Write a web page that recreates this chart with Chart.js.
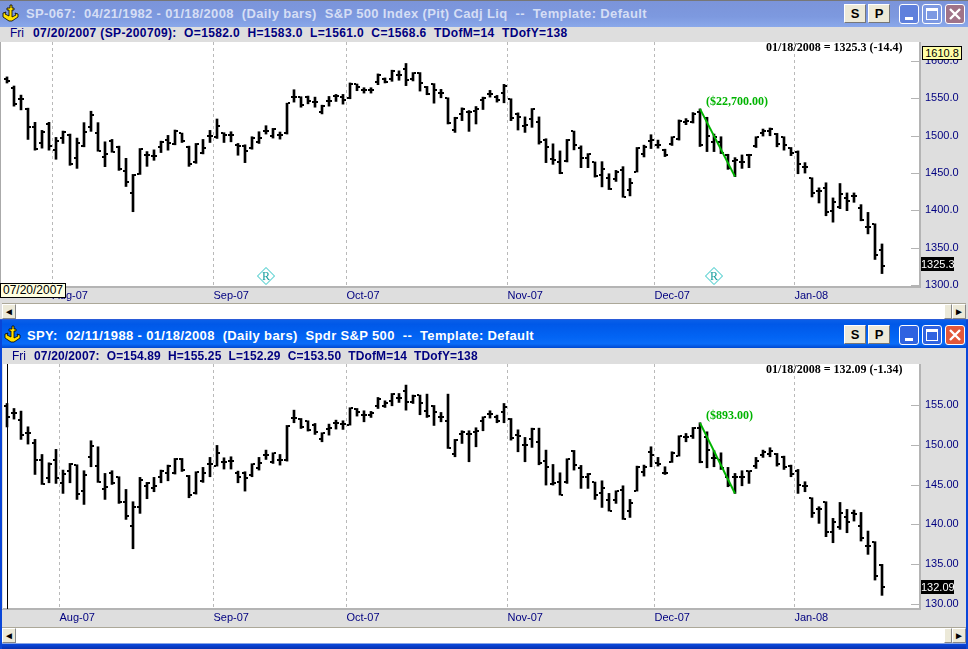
<!DOCTYPE html>
<html>
<head>
<meta charset="utf-8">
<script src="https://cdn.jsdelivr.net/npm/chart.js@4"></script>
<style>
html,body{margin:0;padding:0;background:#dedede;overflow:hidden}
#page{position:relative;width:968px;height:649px;overflow:hidden;font-family:"Liberation Sans",Arial,sans-serif}
#page div,#page span,#page canvas,#page svg{position:absolute}
.title{left:0;width:968px;height:27px}
.titleTxt{left:26px;font-weight:bold;font-size:13px;white-space:pre;letter-spacing:.35px}
.strip{font-size:12px;color:#000080;white-space:pre}
.stripB{font-weight:bold;letter-spacing:.36px}
.btn{width:22px;height:19px;top:4px;background:#ece9d8;border:1px solid #fff;border-right-color:#777;border-bottom-color:#777;box-sizing:border-box;text-align:center;font-weight:bold;font-size:13px;line-height:17px;color:#000}
.wb{width:20px;height:20px;top:4px;box-sizing:border-box;border:1px solid #fff;border-radius:3px}
.scroll{left:2px;width:964px;height:16px;background:#fff;border-top:1px solid #aca899;box-sizing:border-box}
.sb{width:14px;height:15px;top:0;background:#ece9d8;border:1px solid #fff;border-right-color:#888;border-bottom-color:#888;box-sizing:border-box;font-size:10px;line-height:13px;text-align:center;color:#000}
.val{font-family:"Liberation Serif",serif;font-weight:bold;font-size:12px;white-space:pre}
.flag{font-size:11px;text-align:center;line-height:14px;height:14px}
</style>
</head>
<body>
<div id="page">
  <!-- top window -->
  <div class="title" style="top:0;background:linear-gradient(#7b94da,#7d99df 60%,#8aa8ea);border-top:1px solid #777;box-sizing:border-box"></div>
  <svg style="left:2px;top:4px" width="17" height="18" viewBox="0 0 17 18"><path d="M8 1h2v3h2v2h-2v7l4-2-1-2 3 1v3l-6 4H7l-6-4V9l3-1-1 2 4 2V6H5V4h3z" fill="#ffe000" stroke="#000" stroke-width=".8"/></svg>
  <div class="titleTxt" style="top:6px;color:#d5def5">SP-067:  04/21/1982 - 01/18/2008  (Daily bars)  S&amp;P 500 Index (Pit) Cadj Liq  --  Template: Default</div>
  <div class="btn" style="left:844px">S</div>
  <div class="btn" style="left:868px">P</div>
  <div class="wb" style="left:899px;background:#5f80dc"><div style="left:5px;top:12px;width:8px;height:3px;background:#fff"></div></div>
  <div class="wb" style="left:922px;background:#7d99e2"><div style="left:3px;top:3px;width:12px;height:12px;border:1px solid #fff;border-top-width:3px;box-sizing:border-box"></div></div>
  <div class="wb" style="left:945px;background:#a07388"><svg style="left:3px;top:3px" width="12" height="12"><path d="M1 1L11 11M11 1L1 11" stroke="#fff" stroke-width="2.4"/></svg></div>
  <div class="strip" style="left:10px;top:26px">Fri</div>
  <div class="strip stripB" style="left:33px;top:26px">07/20/2007 (SP-200709):  O=1582.0  H=1583.0  L=1561.0  C=1568.6  TDofM=14  TDofY=138</div>
  <canvas id="topChart" width="968" height="263" style="left:0;top:42px"></canvas>
  <div style="left:0;top:42px;width:1px;height:243px;background:#aaa"></div>
  <div class="val" style="left:766px;top:40px;color:#000">01/18/2008 = 1325.3 (-14.4)</div>
  <div class="val" style="left:706px;top:94px;color:#00b400">($22,700.00)</div>
  <div class="flag" style="left:922px;top:46px;width:40px;background:#ffffa8;border:1px solid #000;box-sizing:border-box;line-height:12px;color:#000">1610.8</div>
  <div class="flag" style="left:921px;top:257px;width:33px;background:#000;color:#fff">1325.3</div>
  <div class="flag" style="left:0;top:283px;width:66px;height:15px;background:#ffffe1;border:1px solid #000;box-sizing:border-box;line-height:13px;color:#000;font-size:12px">07/20/2007</div>
  <div class="scroll" style="top:303px"><div class="sb" style="left:0">&#9668;</div><div class="sb" style="left:942px;width:8px"></div><div class="sb" style="left:950px">&#9658;</div></div>
  <div style="left:0;top:319px;width:968px;height:2px;background:#2a5bd8"></div>

  <!-- bottom window -->
  <div class="title" style="top:320px;height:28px;background:linear-gradient(#0a5fe8,#0058e8 15%,#0264f4 60%,#0a6cf8 85%,#0048d0)"></div>
  <svg style="left:4px;top:325px" width="17" height="18" viewBox="0 0 17 18"><path d="M8 1h2v3h2v2h-2v7l4-2-1-2 3 1v3l-6 4H7l-6-4V9l3-1-1 2 4 2V6H5V4h3z" fill="#ffe000" stroke="#000" stroke-width=".8"/></svg>
  <div class="titleTxt" style="top:328px;left:27px;color:#fff">SPY:  02/11/1988 - 01/18/2008  (Daily bars)  Spdr S&amp;P 500  --  Template: Default</div>
  <div class="btn" style="left:844px;top:325px">S</div>
  <div class="btn" style="left:868px;top:325px">P</div>
  <div class="wb" style="left:899px;top:325px;background:#2f63e0"><div style="left:5px;top:12px;width:8px;height:3px;background:#fff"></div></div>
  <div class="wb" style="left:922px;top:325px;background:#2f63e0"><div style="left:3px;top:3px;width:12px;height:12px;border:1px solid #fff;border-top-width:3px;box-sizing:border-box"></div></div>
  <div class="wb" style="left:945px;top:325px;background:#e2583a"><svg style="left:3px;top:3px" width="12" height="12"><path d="M1 1L11 11M11 1L1 11" stroke="#fff" stroke-width="2.4"/></svg></div>
  <div class="strip" style="left:12px;top:349px">Fri</div>
  <div class="strip stripB" style="left:34px;top:349px;letter-spacing:.15px">07/20/2007:  O=154.89  H=155.25  L=152.29  C=153.50  TDofM=14  TDofY=138</div>
  <canvas id="bottomChart" width="968" height="263" style="left:0;top:364px"></canvas>
  <div style="left:2px;top:364px;width:1px;height:245px;background:#dedede"></div>
  <div class="val" style="left:766px;top:362px;color:#000">01/18/2008 = 132.09 (-1.34)</div>
  <div class="val" style="left:706px;top:408px;color:#00b400">($893.00)</div>
  <div class="flag" style="left:921px;top:580px;width:33px;background:#000;color:#fff">132.09</div>
  <div class="scroll" style="top:627px"><div class="sb" style="left:0">&#9668;</div><div class="sb" style="left:942px;width:8px"></div><div class="sb" style="left:950px">&#9658;</div></div>
  <div style="left:0;top:643px;width:968px;height:6px;background:linear-gradient(#c8d4ee,#0a46d8 25%,#0831b0)"></div>
  <div style="left:0;top:320px;width:2px;height:329px;background:#0a46d8"></div>
  <div style="left:966px;top:320px;width:2px;height:329px;background:#0a46d8"></div>
</div>

<script>
// SP-067, one entry per daily bar, 07/20/2007 to 01/18/2008
const spOpen = [1576.2,1564,1548.7,1536.1,1511.3,1490.1,1515.3,1480.7,1496.4,1501.4,
  1470.7,1486.1,1511.3,1503.2,1471.6,1493.3,1485.2,1452.7,1423.4,1448.2,
  1473.9,1473,1484.3,1494.2,1488.8,1503.6,1485.6,1464.4,1477,1500,
  1498.7,1503.6,1500.9,1487,1486.5,1483.4,1491.9,1505.9,1499.1,1501.4,
  1504.1,1552.3,1551.8,1551.8,1545.1,1532,1546,1552.7,1551.8,1550.5,
  1569.4,1560.8,1561.3,1572.1,1576.6,1576.6,1582,1589.7,1576.6,1584.3,
  1565.3,1568.9,1557.2,1550,1507.7,1529.3,1532.5,1532.9,1547.3,1556.3,
  1551.8,1557.7,1549.1,1529.8,1513.5,1522.5,1518.9,1494.6,1468.5,1465.3,
  1465.8,1505.9,1483.4,1469.8,1464.4,1447.3,1443.7,1441.9,1454.5,1427,
  1451.8,1476.1,1493.3,1487,1480.7,1488.3,1495.1,1518,1518.9,1531.6,
  1524.3,1491,1491,1474.3,1466.2,1464.4,1474.3,1486.5,1503.2,1505.9,
  1502.3,1497.8,1483.4,1478.8,1458.6,1443.7,1425.7,1430.2,1398.7,1405,
  1416.7,1418.9,1403.2,1377.9,1381.5,1346.9];
const spHigh = [1578.9,1566.7,1554.5,1537,1518,1507.2,1518,1497.8,1506.3,1502.3,
  1496.9,1517.6,1532.9,1517.6,1491.9,1495.1,1486.1,1469.8,1448.2,1482.9,
  1478.8,1481.1,1492.8,1500.5,1507.7,1503.6,1486.1,1489.7,1495.1,1507.2,
  1522.5,1504.1,1505.4,1489.7,1487.9,1498.7,1505.4,1513.5,1509.9,1505,
  1543.7,1561.7,1552.3,1553.2,1551.8,1541,1552.7,1555.4,1555.4,1570.8,
  1569.4,1564.4,1564.4,1582.9,1577.5,1587.9,1587,1596.9,1584.7,1584.7,
  1566.2,1569.9,1562.2,1550.9,1524.8,1537.4,1533.8,1539.2,1551.8,1560.8,
  1554.1,1568.9,1549.6,1530.7,1525.3,1536.5,1525.3,1496,1489.2,1479.7,
  1495.1,1506.3,1486.5,1476.1,1464.9,1465.3,1449.1,1453.6,1458.6,1442.8,
  1484.3,1487.4,1501.4,1494.2,1482,1498.7,1521.2,1523,1531.1,1536,
  1524.8,1502.3,1498.7,1475.2,1470.7,1474.3,1475.2,1498.7,1509,1510.4,
  1503.2,1498.7,1484.3,1479.7,1464,1443.7,1430.2,1437,1416.7,1436,
  1423.4,1423.4,1407.7,1397.3,1382,1355];
const spLow = [1570.7,1539.7,1534.7,1495.1,1480.7,1483.4,1480.7,1468.5,1489.7,1460.4,
  1456.3,1485.2,1505.9,1479.3,1458.6,1477.9,1453.6,1432,1398.2,1448.2,
  1459,1467.1,1477.5,1480.7,1487.9,1491,1459,1463.1,1475.7,1491,
  1496.4,1491,1491.9,1473.9,1464,1482,1489.7,1502.3,1496.9,1495.5,
  1502.3,1545.1,1538.3,1542.8,1538.3,1529.3,1539.7,1546,1542.4,1549.6,
  1560.4,1557.2,1557.2,1568.5,1570.8,1573,1574.4,1567.2,1573.5,1559.9,
  1555,1543.7,1550.9,1515.8,1504.5,1520.3,1505.9,1515.8,1535.2,1551.8,
  1545.1,1544.2,1520.3,1507.7,1504.5,1511.3,1488.8,1464,1461.7,1449.1,
  1464.9,1481.1,1457.2,1457.2,1444.6,1431.5,1427.9,1438.8,1417.6,1419.4,
  1451.4,1471.6,1482.9,1483.4,1472.1,1487,1494.2,1514.9,1517.1,1485.6,
  1478.8,1478.8,1476.1,1455,1445.2,1456.3,1457.2,1484.3,1499.6,1500,
  1485.2,1480.7,1473.4,1449.1,1450,1418,1409.9,1392.8,1384.2,1402.3,
  1399.6,1410.8,1386,1368.5,1334.2,1315.3];
const spClose = [1573,1542.8,1549.1,1511.7,1481.6,1504.5,1486.1,1493.3,1504.5,1461.7,
  1489.7,1505,1527.5,1480.2,1475.2,1478.8,1455.4,1437.4,1447.3,1482,
  1474.8,1473,1491.9,1489.7,1506.8,1492.4,1461.7,1488.8,1483.4,1500,
  1513.1,1500.9,1500.9,1486.5,1479.7,1496.4,1497.3,1506.8,1508.6,1500.9,
  1543.7,1551.8,1540.6,1546,1545.1,1540.1,1546.9,1553.2,1548.2,1569.9,
  1564.9,1560.8,1561.3,1581.1,1572.6,1586.5,1582,1575.3,1583.8,1571.2,
  1556.3,1561.7,1557.2,1516.7,1523.4,1535.6,1532.5,1536.1,1550.9,1556.3,
  1547.3,1566.7,1523.9,1524.8,1514.4,1535.6,1491,1485.2,1467.1,1450,
  1494.2,1487.9,1470.7,1475.2,1446,1455.9,1428.8,1451.8,1418.5,1437,
  1483.4,1484.3,1494.2,1487,1473.9,1497.8,1520.3,1519.4,1529.3,1487.9,
  1500,1498.7,1477.5,1457.2,1467.1,1464.9,1474.3,1497.8,1506.8,1509,
  1488.8,1487.4,1477.5,1461.7,1458.6,1423.4,1425.7,1397.8,1411.3,1422.1,
  1413.1,1418.9,1387.4,1377.9,1339.7,1325.3];

// SPY, same dates
const spyOpen = [154.89,153.99,153.11,151.56,150.30,148.11,145.88,148.11,145.17,146.77,
  147.44,144.24,148.45,147.40,144.41,146.51,145.93,142.82,139.83,142.14,
  144.83,144.54,146.01,146.43,146.43,148.19,146.13,143.99,145.46,147.61,
  147.35,147.90,147.98,146.51,146.51,146.22,147.06,148.74,147.90,148.11,
  148.11,153.36,153.32,152.99,152.52,150.72,152.02,152.82,152.61,152.52,
  154.58,153.78,153.78,154.92,154.92,155.59,155.97,156.85,155.46,156.26,
  154.33,154.92,153.57,153.07,148.82,151.39,151.39,151.68,153.03,153.91,
  153.49,154.12,153.32,151.26,149.96,150.80,150.42,147.98,145.09,145.30,
  145.30,149.29,147.06,145.93,145.30,143.99,143.07,143.07,144.33,141.72,
  144.24,146.64,149.08,147.69,146.51,147.90,148.66,150.97,151.14,152.10,
  150.97,148.32,148.11,146.01,145.93,145.93,146.72,147.40,148.74,148.87,
  148.87,148.53,147.40,146.77,144.87,143.32,141.89,142.77,139.08,139.71,
  140.88,141.39,139.83,137.27,137.77,134.87];
const spyHigh = [155.25,154.62,154.29,152.31,150.72,148.82,147.77,149.46,146.85,147.69,
  147.52,146.77,150.55,149.79,146.43,146.77,146.01,144.41,142.86,145.93,
  145.30,145.93,146.85,147.48,148.32,148.32,146.18,146.64,147.19,148.45,
  149.96,148.40,148.53,146.72,146.64,147.65,148.45,149.37,149.03,148.82,
  152.48,154.41,153.36,153.07,152.73,151.56,152.65,153.15,153.07,154.71,
  154.62,154.33,154.25,156.01,155.59,156.51,156.51,157.57,156.31,156.31,
  156.43,155.00,154.12,156.43,150.72,151.81,151.81,152.19,153.57,154.33,
  153.78,155.25,153.36,151.93,150.97,152.14,152.14,149.37,147.56,146.51,
  148.28,149.33,147.44,146.43,145.34,145.50,143.91,144.24,144.87,143.15,
  147.35,147.48,149.79,148.45,147.27,149.16,151.18,151.47,152.23,152.82,
  151.68,149.29,149.03,147.19,146.43,146.77,146.77,148.45,149.37,149.67,
  148.95,148.61,147.48,146.93,145.38,143.36,142.23,142.86,140.76,142.77,
  141.89,141.81,141.51,139.16,137.82,134.96];
const spyLow = [152.29,153.28,150.72,150.13,146.30,145.04,145.25,145.17,143.91,145.25,
  143.15,142.52,147.27,145.30,143.15,145.04,142.65,140.63,136.93,141.39,
  143.24,144.12,145.25,145.50,146.35,146.68,143.36,143.82,145.30,146.01,
  147.35,146.98,146.98,145.25,144.20,146.01,146.85,148.19,147.69,147.48,
  147.98,152.82,152.10,151.77,151.35,150.42,151.26,152.02,151.98,152.52,
  153.66,152.94,153.49,154.62,154.75,154.96,155.38,154.41,155.25,153.83,
  153.49,152.48,152.94,149.58,148.53,150.21,147.90,149.79,151.81,153.41,
  152.82,152.82,150.63,149.16,147.90,149.71,147.52,144.96,144.96,143.70,
  145.17,146.85,144.54,144.54,143.15,142.14,141.68,142.65,140.63,140.88,
  144.20,146.09,147.27,147.35,146.30,147.82,148.61,150.42,150.84,147.77,
  147.14,147.27,146.93,144.75,143.91,144.87,145.17,147.06,148.45,148.53,
  147.35,146.93,146.01,143.91,144.12,140.88,140.13,138.45,137.69,139.37,
  138.95,140.42,137.90,136.22,132.98,131.05];
const spyClose = [153.50,153.99,151.26,151.56,148.11,145.13,147.61,145.88,146.35,147.61,
  143.82,146.22,149.88,145.38,144.75,145.17,142.86,141.05,142.14,145.59,
  145.17,144.83,146.72,147.35,148.24,146.85,143.70,146.56,146.43,147.61,
  149.03,147.90,147.98,146.01,145.80,147.56,147.69,148.74,148.95,148.11,
  152.40,153.36,152.31,151.89,151.68,151.47,152.10,152.82,152.61,154.62,
  154.20,153.78,153.99,155.76,155.25,156.39,155.97,155.46,156.22,155.25,
  153.66,154.20,153.57,149.67,150.59,151.68,151.39,151.81,153.49,153.91,
  152.99,154.83,150.93,151.14,150.04,152.06,147.69,147.19,145.17,143.74,
  148.19,147.48,145.93,146.30,143.70,144.54,141.72,144.16,140.71,142.65,
  147.27,147.19,148.74,147.61,146.43,149.03,151.09,151.05,152.10,147.86,
  149.37,148.32,147.06,144.96,145.93,145.93,146.72,148.03,149.08,149.29,
  147.61,147.27,146.35,144.96,144.87,141.39,141.89,139.08,140.34,141.47,
  140.34,141.30,138.24,137.27,133.43,132.09];

// month separators sit between two bars, so half values
const monthLabels = ['Aug-07','Sep-07','Oct-07','Nov-07','Dec-07','Jan-08'];
const spMonthTicks = [7.5,30.5,49.5,72.5,93.5,113.5];
const spyMonthTicks = [8.5,30.5,49.5,72.5,93.5,113.5];

const spMajorTicks = [1300,1350,1400,1450,1500,1550,1600];
const spMinorTicks = [1310,1320,1330,1340,1360,1370,1380,1390,1410,1420,1430,1440,1460,1470,1480,1490,1510,1520,1530,1540,1560,1570,1580,1590,1610,1620];
const spyMajorTicks = [130,135,140,145,150,155];
const spyMinorTicks = [131,132,133,134,136,137,138,139,141,142,143,144,146,147,148,149,151,152,153,154,156,157,158,159,160];

// drawdown line: bar number, price
const spTrendX = [100,105], spTrendY = [1536,1445.2];
const spyTrendX = [100,105], spyTrendY = [152.8,143.9];

const spMarkX = [38,102], spMarkY = [1312,1312];

const PX_PER_BAR = 7;

function markImage() {
  const c = document.createElement('canvas');
  c.width = 18; c.height = 18;
  const g = c.getContext('2d');
  g.strokeStyle = '#20c0c0';
  g.beginPath();
  g.moveTo(9, .5); g.lineTo(17.5, 9); g.lineTo(9, 17.5); g.lineTo(.5, 9); g.closePath();
  g.stroke();
  g.fillStyle = '#109c9c';
  g.font = '12px "Liberation Serif"';
  g.textAlign = 'center';
  g.textBaseline = 'middle';
  g.fillText('R', 9, 9.5);
  return c;
}

// white plot, bar ticks from the hidden open/close datasets, price axis ticks pointing inward
const ohlcPlugin = {
  id: 'ohlc',
  beforeDraw(chart) {
    const a = chart.chartArea, ctx = chart.ctx;
    ctx.fillStyle = '#fff';
    ctx.fillRect(a.left, a.top, a.width, a.height);
  },
  beforeDatasetsDraw(chart) {
    const ctx = chart.ctx;
    ctx.fillStyle = '#000';
    chart.getDatasetMeta(1).data.forEach(p => ctx.fillRect(p.x - 3, Math.round(p.y) - 1, 2, 2));
    chart.getDatasetMeta(2).data.forEach(p => ctx.fillRect(p.x + 1, Math.round(p.y) - 1, 2, 2));
  },
  afterDraw(chart) {
    const ctx = chart.ctx, y = chart.scales.y, a = chart.chartArea;
    const cfg = chart.options.plugins.ohlc;
    ctx.fillStyle = '#b4b4b4';
    y.ticks.forEach(t => {
      const len = cfg.major.includes(t.value) ? 9 : 4;
      ctx.fillRect(a.right - len, Math.round(y.getPixelForValue(t.value)), len, 1);
    });
    if (cfg.cursor) {
      ctx.fillStyle = '#000';
      ctx.fillRect(chart.scales.x.getPixelForValue(cfg.cursor), a.top, 1, a.height);
    }
  }
};

function ohlcChart(id, o, h, l, c, conf) {
  const datasets = [
    { type: 'bar', label: 'High-Low', data: h.map((v, i) => ({ x: i + 1, y: [l[i], v] })),
      backgroundColor: '#000', barThickness: 2, order: 5 },
    { type: 'scatter', label: 'Open', data: o.map((v, i) => ({ x: i + 1, y: v })), pointRadius: 0, order: 6 },
    { type: 'scatter', label: 'Close', data: c.map((v, i) => ({ x: i + 1, y: v })), pointRadius: 0, order: 6 },
    { type: 'line', label: 'Trend', data: conf.trendX.map((v, i) => ({ x: v, y: conf.trendY[i] })),
      borderColor: '#00b400', borderWidth: 2, pointRadius: 0, order: 1 }
  ];
  if (conf.markX) {
    datasets.push({ type: 'scatter', label: 'Marks', data: conf.markX.map((v, i) => ({ x: v, y: conf.markY[i] })),
      pointStyle: markImage(), order: 2 });
  }
  return new Chart(document.getElementById(id), {
    type: 'bar',
    data: { datasets: datasets },
    plugins: [ohlcPlugin],
    options: {
      responsive: false,
      animation: false,
      events: [],
      layout: { padding: 0, autoPadding: false },
      plugins: {
        legend: { display: false },
        tooltip: { enabled: false },
        ohlc: { major: conf.majors, cursor: conf.cursor }
      },
      scales: {
        x: {
          type: 'linear',
          offset: false,
          min: 0,
          max: 920 / PX_PER_BAR,
          grid: { offset: false, color: '#b9b9b9', drawTicks: false },
          border: { color: '#b4b4b4', width: 2, dash: [3, 3] },
          ticks: {
            autoSkip: false, maxRotation: 0, align: 'start', padding: 2,
            color: '#000080', font: { family: 'Liberation Sans', size: 11 },
            callback: v => monthLabels[conf.months.indexOf(v)]
          },
          afterBuildTicks: s => { s.ticks = conf.months.map(v => ({ value: v })); },
          afterFit: s => { s.height = 18; s.paddingLeft = 0; s.paddingRight = 0; }
        },
        y: {
          position: 'right',
          min: conf.min,
          max: conf.max,
          grid: { display: false, drawTicks: false },
          border: { color: '#b4b4b4', width: 2 },
          ticks: {
            autoSkip: false, padding: 5,
            color: '#000080', font: { family: 'Liberation Sans', size: 11 },
            callback: v => conf.majors.includes(v) ? v.toFixed(conf.decimals) : null
          },
          afterBuildTicks: s => {
            s.ticks = conf.majors.concat(conf.minors).sort((a, b) => a - b).map(v => ({ value: v }));
          },
          afterFit: s => { s.width = 48; s.paddingTop = 0; s.paddingBottom = 0; }
        }
      }
    }
  });
}

ohlcChart('topChart', spOpen, spHigh, spLow, spClose, {
  min: 1297.3, max: 1625.68, decimals: 1,
  majors: spMajorTicks, minors: spMinorTicks, months: spMonthTicks,
  trendX: spTrendX, trendY: spTrendY, markX: spMarkX, markY: spMarkY
});
ohlcChart('bottomChart', spyOpen, spyHigh, spyLow, spyClose, {
  min: 129.33, max: 160.23, decimals: 2,
  majors: spyMajorTicks, minors: spyMinorTicks, months: spyMonthTicks,
  trendX: spyTrendX, trendY: spyTrendY, cursor: 1
});
</script>
</body>
</html>
